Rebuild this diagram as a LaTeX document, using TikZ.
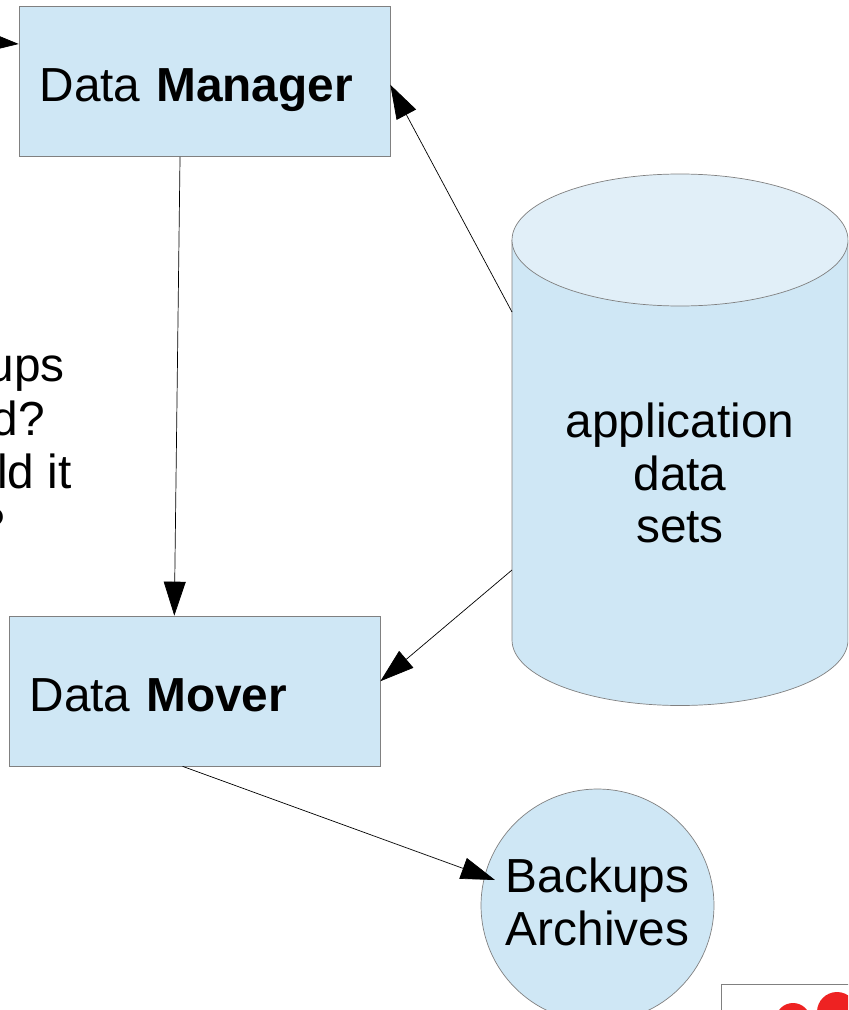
\documentclass[tikz,border=0pt]{standalone}
\usepackage{fontspec}
\setmainfont{Liberation Sans}
\usetikzlibrary{arrows.meta}
\definecolor{boxblue}{HTML}{CFE7F5}
\definecolor{toplight}{HTML}{E1EFF8}
\definecolor{edgegray}{HTML}{808080}
\definecolor{logored}{HTML}{EE2222}
\tikzstyle{box} = [rectangle, minimum width=7.42cm, minimum height=3cm, text width=6.6cm, text height=.8cm, text depth=0, inner xsep=.4cm, align=left, draw=edgegray, fill=boxblue, font=\fontsize{27.2}{30}\selectfont]
\tikzstyle{disc} = [circle, minimum size=4.66cm, inner sep=0, draw=edgegray, fill=boxblue]
\tikzstyle{label} = [inner sep=0, font=\fontsize{27.2}{30}\selectfont]
\tikzstyle{arrow} = [black, -{Triangle[length=.68cm,width=.44cm]}]
\begin{document}
\begin{tikzpicture}[x=.02cm,y=-.02cm]
\useasboundingbox (0,0) rectangle (848,1010);
\clip (0,0) rectangle (848,1010);
\node[box] (manager) at (204.5,81.5) {Data \textbf{Manager}};
\node[box] (mover) at (194.5,691) {Data \textbf{Mover}};
\node[disc] (backups) at (597.5,905.5) {};
\node[label,align=center] (backupstext) at (597.5,902) {Backups\\Archives};
% cylinder
\draw[edgegray,fill=boxblue] (512,240) -- (512,640) arc (180:0:168 and 65.5) -- (848,240);
\draw[edgegray,fill=toplight] (680,240) ellipse (168 and 66);
\node[label,align=center] (datasets) at (680,473) {application\\data\\sets};
\coordinate (datatop) at (512,312);
\coordinate (databot) at (512,570);
\coordinate (offpage) at (-60,38);
\coordinate (backupsin) at (495,880);
% the text cut by the page edge
\node[label,anchor=base east] (lineone) at (65,381) {ups};
\node[label,anchor=base east] (linetwo) at (45,435) {d?};
\node[label,anchor=base east] (linethree) at (72,488) {ld it};
\node[label,anchor=base east] (linefour) at (5,541) {?};
\draw[arrow] (offpage)--(manager.west |- 0,44);
\draw[arrow] (manager.-108)--(mover.105);
\draw[arrow] (datatop)--(manager.-1);
\draw[arrow] (databot)--(mover.3);
\draw[arrow] (mover.-99)--(backupsin);
% logo in the corner
\draw[edgegray,fill=white] (721,984) rectangle (860,1030);
\fill[logored] (793,1020.5) circle (17.5);
\fill[logored] (837,1012) circle (20);
\end{tikzpicture}
\end{document}
